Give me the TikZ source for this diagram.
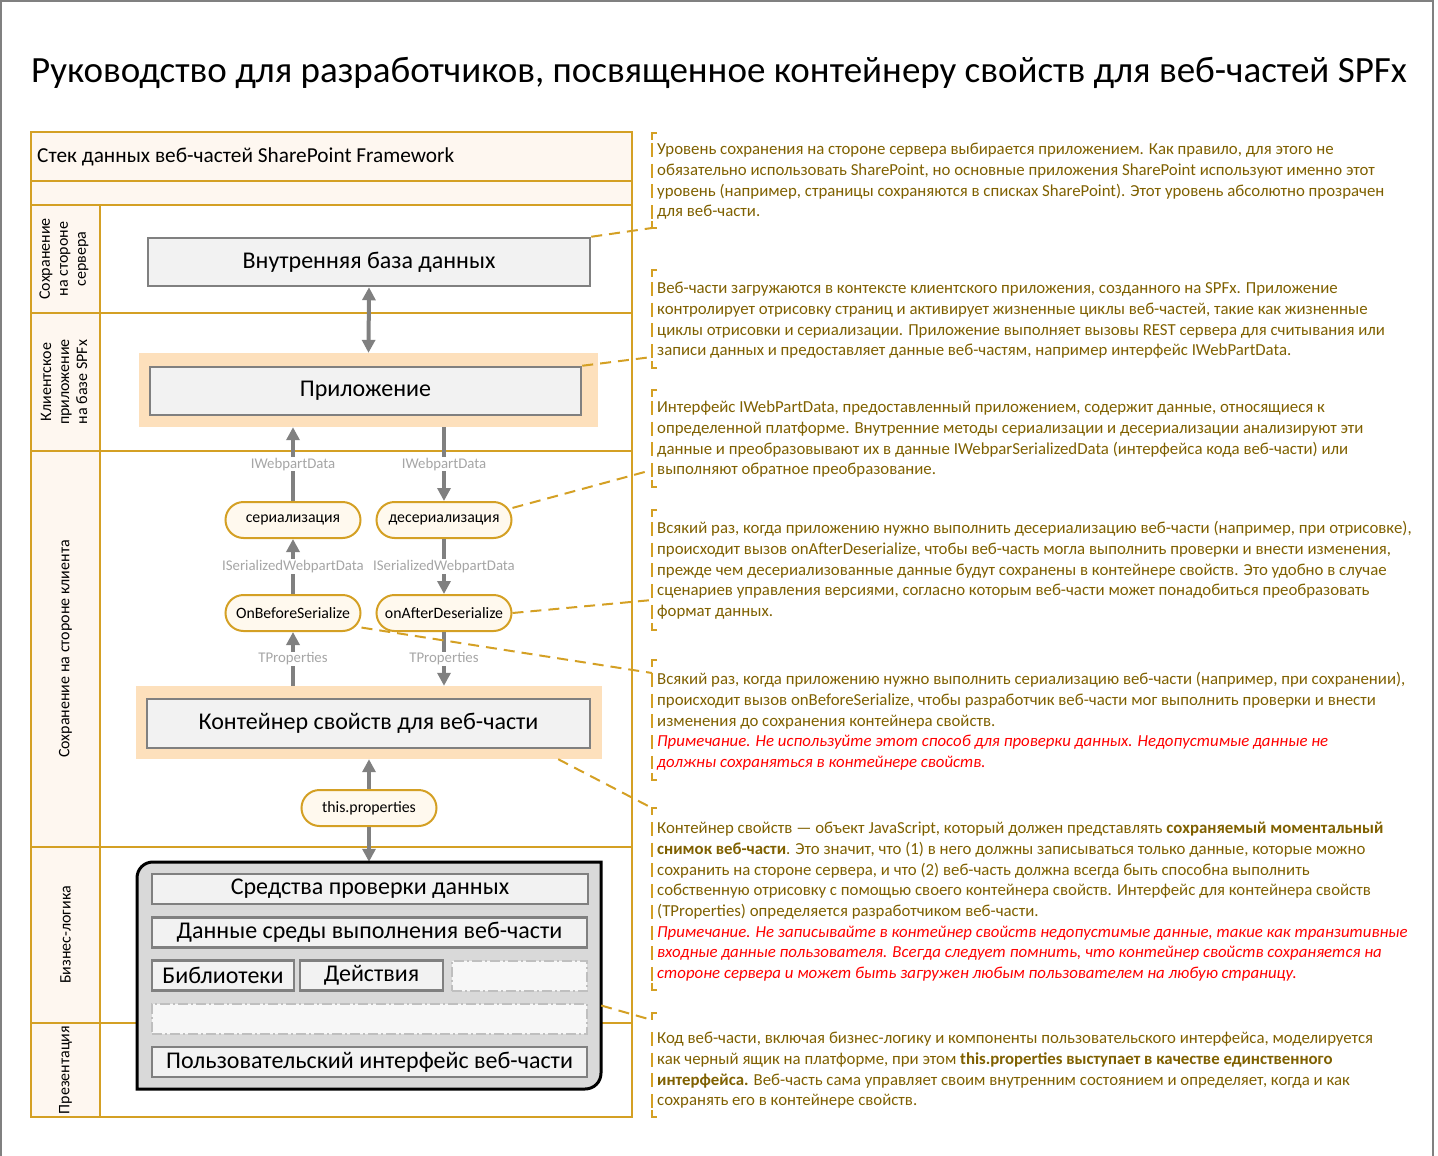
\documentclass[tikz,border=0pt]{standalone}
\usepackage{fontspec}
\setmainfont{Carlito}
\usetikzlibrary{arrows.meta}
\definecolor{lanegold}{RGB}{212,160,36}
\definecolor{lanepeach}{RGB}{254,247,240}
\definecolor{glowpeach}{RGB}{253,224,188}
\definecolor{pillfill}{RGB}{255,249,238}
\definecolor{arrowgray}{RGB}{128,128,128}
\definecolor{labelgray}{RGB}{166,166,166}
\definecolor{boxgray}{RGB}{128,128,128}
\definecolor{boxfill}{RGB}{242,242,242}
\definecolor{logicgray}{RGB}{217,217,217}
\definecolor{blankgray}{RGB}{191,191,191}
\definecolor{blankfill}{RGB}{247,247,247}
\definecolor{notebrown}{RGB}{127,96,0}
\definecolor{notered}{RGB}{255,0,0}
\newcommand\notestrut{\rule{0pt}{14pt}}
\newcommand\warn[1]{{\color{notered}\itshape #1}}
\tikzset{
  lane line/.style={draw=lanegold, line width=2.5pt},
  lane label/.style={rotate=90, align=center, font=\fontsize{16}{18}\selectfont},
  gray box/.style={draw=boxgray, fill=boxfill, line width=2.5pt, inner sep=0pt,
    font=\fontsize{24}{28}\selectfont},
  glow box/.style={fill=glowpeach, inner sep=0pt},
  pill/.style={draw=lanegold, fill=pillfill, line width=2pt, rounded corners=18pt,
    minimum width=135pt, minimum height=36pt, inner sep=0pt,
    font=\fontsize{15.8}{18}\selectfont},
  flow/.style={draw=arrowgray, line width=4pt, -{Triangle[width=13pt,length=13pt]}},
  both flow/.style={flow, {Triangle[width=13pt,length=13pt]}-{Triangle[width=13pt,length=13pt]}},
  flow label/.style={fill=white, text=labelgray, inner sep=1pt,
    font=\fontsize{14.8}{17}\selectfont},
  logic part/.style={draw=boxgray, fill=boxfill, line width=2.5pt, minimum height=30pt,
    inner sep=0pt, font=\fontsize{24}{28}\selectfont},
  blank part/.style={draw=blankgray, fill=blankfill, line width=2pt, minimum height=30pt,
    dash pattern=on 10pt off 3pt on 2pt off 3pt},
  callout/.style={draw=lanegold, line width=2pt, dash pattern=on 11pt off 7pt},
  note bracket/.style={draw=lanegold, line width=2pt},
  note/.style={anchor=north west, inner sep=0pt, align=left, text=notebrown,
    font=\fontsize{16.8}{20.7}\selectfont},
}
\begin{document}
\begin{tikzpicture}[x=1pt,y=-1pt]
  \useasboundingbox (0,0) rectangle (1438,1156);
  \draw[gray, line width=2pt] (1,1160) -- (1,1) -- (1433,1) -- (1433,1160);
  \node[anchor=west, inner sep=0pt, font=\fontsize{37}{42}\selectfont] (title) at (31,73)
    {Руководство для разработчиков, посвященное контейнеру свойств для веб-частей SPFx};
  % lanes
  \fill[lanepeach] (31,132) rectangle (632,205);
  \fill[lanepeach] (31,205) rectangle (100,1117);
  \draw[lane line] (31,132) rectangle (632,1117);
  \foreach \y in {181,205,313,451,847,1023}
    \draw[lane line] (31,\y) -- (632,\y);
  \draw[lane line] (100,205) -- (100,1117);
  \node[anchor=west, inner sep=0pt, font=\fontsize{21.3}{24}\selectfont] (stack) at (37,157)
    {Стек данных веб-частей SharePoint Framework};
  \node[lane label] (lserver) at (64,259) {Сохранение\\на стороне\\сервера};
  \node[lane label] (lapp) at (64,382) {Клиентское\\приложение\\на базе SPFx};
  \node[lane label] (lclient) at (65.5,649) {Сохранение на стороне клиента};
  \node[lane label] (llogic) at (65.5,935) {Бизнес-логика};
  \node[lane label] (lui) at (65.5,1070) {Презентация};
  % boxes
  \node[gray box, minimum width=442pt, minimum height=48pt] (db) at (369,262) {Внутренняя база данных};
  \node[glow box, minimum width=459pt, minimum height=74pt] (appglow) at (368.5,390) {};
  \node[gray box, minimum width=431pt, minimum height=48pt] (app) at (365.5,391) {Приложение};
  \node[pill] (ser) at (293,520) {сериализация};
  \node[pill] (deser) at (444,520) {десериализация};
  \node[pill] (befser) at (293,613) {OnBeforeSerialize};
  \node[pill] (aftdes) at (444,613) {onAfterDeserialize};
  \node[glow box, minimum width=466pt, minimum height=73pt] (contglow) at (369,722.5) {};
  \node[gray box, minimum width=443pt, minimum height=49pt] (cont) at (368.5,723.5) {Контейнер свойств для веб-части};
  \node[pill] (props) at (369,808) {this.properties};
  % arrows
  \draw[both flow] (db.south) -- (appglow.north);
  \draw[flow] (ser.north) -- node[flow label] {IWebpartData} (appglow.south -| ser.north);
  \draw[flow] (befser.north) -- node[flow label] {ISerializedWebpartData} (ser.south);
  \draw[flow] (contglow.north -| befser.south) -- node[flow label] {TProperties} (befser.south);
  \draw[flow] (appglow.south -| deser.north) -- node[flow label] {IWebpartData} (deser.north);
  \draw[flow] (deser.south) -- node[flow label] {ISerializedWebpartData} (aftdes.north);
  \draw[flow] (aftdes.south) -- node[flow label] {TProperties} (contglow.north -| aftdes.south);
  \draw[flow] (props.north) -- (contglow.south -| props.north);
  % business logic box
  \node[inner sep=0pt, minimum width=464pt, minimum height=227pt] (logic) at (369,975.5) {};
  \draw[flow] (props.south) -- (logic.north);
  \draw[draw=black, fill=logicgray, line width=3pt] (137,1089) -- (137,878)
    .. controls (137,869) and (144,862) .. (153,862) -- (601,862) -- (601,1073)
    .. controls (601,1082) and (594,1089) .. (585,1089) -- cycle;
  \node[logic part, minimum width=436pt] (checks) at (370,889) {Средства проверки данных};
  \node[logic part, minimum width=435pt] (runtime) at (369.5,932.5) {Данные среды выполнения веб-части};
  \node[logic part, minimum width=142pt] (libs) at (223,975.5) {Библиотеки};
  \node[logic part, minimum width=143pt] (actions) at (371.5,975.5) {Действия};
  \node[blank part, minimum width=135pt] (spare) at (519.5,975.5) {};
  \node[blank part, minimum width=435pt] (sparewide) at (369.5,1019) {};
  \node[logic part, minimum width=435pt] (webui) at (369.5,1062) {Пользовательский интерфейс веб-части};
  % notes
  \foreach \nt/\nf/\nl/\nb in {133/150/212/228, 270/289/351/368, 390/408/470/487,
      510/529/613/630, 660/680/762/780, 808/829/974/990, 1013/1039/1101/1117}{
    \draw[note bracket] (657,\nt) -- (652,\nt) -- (652,\nt+7);
    \draw[note bracket, dash pattern=on 14pt off 6.7pt] (652,\nf-7) -- (652,\nl+7);
    \draw[note bracket] (652,\nb-7) -- (652,\nb) -- (657,\nb);
  }
  \node[note] (note1) at (657,140.5) {\notestrut Уровень сохранения на стороне сервера выбирается приложением. Как правило, для этого не\\
    обязательно использовать SharePoint, но основные приложения SharePoint используют именно этот\\
    уровень (например, страницы сохраняются в списках SharePoint). Этот уровень абсолютно прозрачен\\
    для веб-части.};
  \node[note] (note2) at (657,279.5) {\notestrut Веб-части загружаются в контексте клиентского приложения, созданного на SPFx. Приложение\\
    контролирует отрисовку страниц и активирует жизненные циклы веб-частей, такие как жизненные\\
    циклы отрисовки и сериализации. Приложение выполняет вызовы REST сервера для считывания или\\
    записи данных и предоставляет данные веб-частям, например интерфейс IWebPartData.};
  \node[note] (note3) at (657,398.5) {\notestrut Интерфейс IWebPartData, предоставленный приложением, содержит данные, относящиеся к\\
    определенной платформе. Внутренние методы сериализации и десериализации анализируют эти\\
    данные и преобразовывают их в данные IWebparSerializedData (интерфейса кода веб-части) или\\
    выполняют обратное преобразование.};
  \node[note] (note4) at (657,519.5) {\notestrut Всякий раз, когда приложению нужно выполнить десериализацию веб-части (например, при отрисовке),\\
    происходит вызов onAfterDeserialize, чтобы веб-часть могла выполнить проверки и внести изменения,\\
    прежде чем десериализованные данные будут сохранены в контейнере свойств. Это удобно в случае\\
    сценариев управления версиями, согласно которым веб-части может понадобиться преобразовать\\
    формат данных.};
  \node[note] (note5) at (657,670.5) {\notestrut Всякий раз, когда приложению нужно выполнить сериализацию веб-части (например, при сохранении),\\
    происходит вызов onBeforeSerialize, чтобы разработчик веб-части мог выполнить проверки и внести\\
    изменения до сохранения контейнера свойств.\\
    \warn{Примечание. Не используйте этот способ для проверки данных. Недопустимые данные не}\\
    \warn{должны сохраняться в контейнере свойств.}};
  \node[note] (note6) at (657,819.5) {\notestrut Контейнер свойств — объект JavaScript, который должен представлять \textbf{сохраняемый моментальный}\\
    \textbf{снимок веб-части}. Это значит, что (1) в него должны записываться только данные, которые можно\\
    сохранить на стороне сервера, и что (2) веб-часть должна всегда быть способна выполнить\\
    собственную отрисовку с помощью своего контейнера свойств. Интерфейс для контейнера свойств\\
    (TProperties) определяется разработчиком веб-части.\\
    \warn{Примечание. Не записывайте в контейнер свойств недопустимые данные, такие как транзитивные}\\
    \warn{входные данные пользователя. Всегда следует помнить, что контейнер свойств сохраняется на}\\
    \warn{стороне сервера и может быть загружен любым пользователем на любую страницу.}};
  \node[note] (note7) at (657,1029.5) {\notestrut Код веб-части, включая бизнес-логику и компоненты пользовательского интерфейса, моделируется\\
    как черный ящик на платформе, при этом \textbf{this.properties выступает в качестве единственного}\\
    \textbf{интерфейса.} Веб-часть сама управляет своим внутренним состоянием и определяет, когда и как\\
    сохранять его в контейнере свойств.};
  % callouts
  \coordinate (n1) at (652,228);
  \coordinate (n2) at (652,357);
  \coordinate (n3) at (652,470);
  \coordinate (n4) at (652,600);
  \coordinate (n5) at (652,673);
  \coordinate (n6) at (652,808);
  \coordinate (n7) at (652,1020);
  \draw[callout] (db.north east) -- (n1);
  \draw[callout] (app.north east) -- (n2);
  \draw[callout] (deser.10) -- (n3);
  \draw[callout] (aftdes.east) -- (n4);
  \draw[callout] (befser.-12) -- (n5);
  \draw[callout] ([xshift=-44pt]contglow.south east) -- (n6);
  \draw[callout] ([yshift=-30pt]logic.east) -- (n7);
\end{tikzpicture}
\end{document}
